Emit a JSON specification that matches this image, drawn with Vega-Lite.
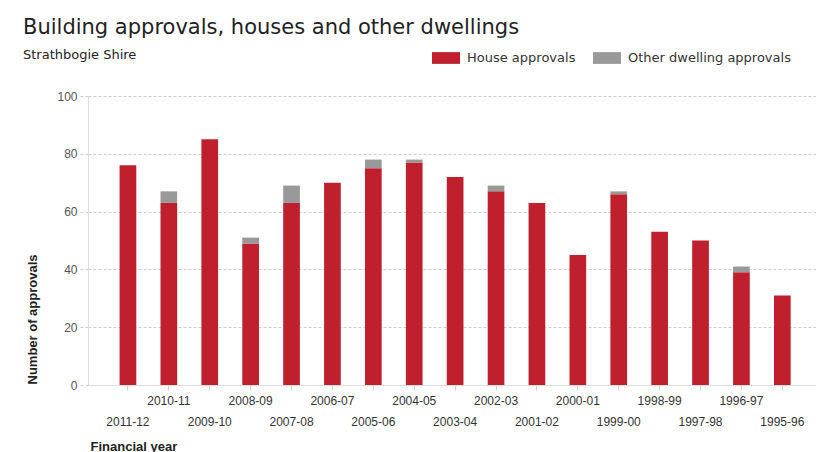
{
  "$schema": "https://vega.github.io/schema/vega-lite/v6.json",
  "width": 728,
  "height": 289,
  "autosize": {"type": "none"},
  "padding": {"left": 88, "top": 96, "right": 0, "bottom": 67},
  "background": "white",
  "title": {
    "text": "Building approvals, houses and other dwellings",
    "subtitle": "Strathbogie Shire",
    "anchor": "start",
    "frame": "group",
    "dx": -65,
    "offset": -18,
    "font": "DejaVu Sans",
    "fontSize": 21,
    "fontWeight": "normal",
    "color": "#222222",
    "subtitleFont": "DejaVu Sans",
    "subtitleFontSize": 13,
    "subtitleColor": "#222222",
    "subtitlePadding": 11
  },
  "data": {
    "values": [
      {"year": "2011-12", "type": "House approvals", "value": 76},
      {"year": "2010-11", "type": "House approvals", "value": 63},
      {"year": "2010-11", "type": "Other dwelling approvals", "value": 4},
      {"year": "2009-10", "type": "House approvals", "value": 85},
      {"year": "2008-09", "type": "House approvals", "value": 49},
      {"year": "2008-09", "type": "Other dwelling approvals", "value": 2},
      {"year": "2007-08", "type": "House approvals", "value": 63},
      {"year": "2007-08", "type": "Other dwelling approvals", "value": 6},
      {"year": "2006-07", "type": "House approvals", "value": 70},
      {"year": "2005-06", "type": "House approvals", "value": 75},
      {"year": "2005-06", "type": "Other dwelling approvals", "value": 3},
      {"year": "2004-05", "type": "House approvals", "value": 77},
      {"year": "2004-05", "type": "Other dwelling approvals", "value": 1},
      {"year": "2003-04", "type": "House approvals", "value": 72},
      {"year": "2002-03", "type": "House approvals", "value": 67},
      {"year": "2002-03", "type": "Other dwelling approvals", "value": 2},
      {"year": "2001-02", "type": "House approvals", "value": 63},
      {"year": "2000-01", "type": "House approvals", "value": 45},
      {"year": "1999-00", "type": "House approvals", "value": 66},
      {"year": "1999-00", "type": "Other dwelling approvals", "value": 1},
      {"year": "1998-99", "type": "House approvals", "value": 53},
      {"year": "1997-98", "type": "House approvals", "value": 50},
      {"year": "1996-97", "type": "House approvals", "value": 39},
      {"year": "1996-97", "type": "Other dwelling approvals", "value": 2},
      {"year": "1995-96", "type": "House approvals", "value": 31}
    ]
  },
  "mark": {"type": "bar"},
  "encoding": {
    "x": {
      "field": "year",
      "type": "nominal",
      "sort": null,
      "scale": {"paddingInner": 0.592, "paddingOuter": 0.696, "align": 0.555},
      "axis": {
        "title": "Financial year",
        "titleFont": "Liberation Sans",
        "titleFontSize": 13,
        "titleFontWeight": "bold",
        "titleColor": "#222222",
        "titleX": 2,
        "titleY": 55,
        "titleAlign": "left",
        "titleBaseline": "top",
        "labelAngle": 0,
        "labelFont": "Liberation Sans",
        "labelFontSize": 12,
        "labelColor": "#333333",
        "labelBaseline": "top",
        "labelPadding": 5,
        "labelLineHeight": 21,
        "labelOverlap": false,
        "labelBound": false,
        "labelExpr": "indexof(['2010-11','2008-09','2006-07','2004-05','2002-03','2000-01','1998-99','1996-97'], datum.value) >= 0 ? datum.value : ['', datum.value]",
        "domainColor": "#dddddd",
        "tickColor": "#cccccc",
        "tickSize": 5,
        "grid": false
      }
    },
    "y": {
      "field": "value",
      "type": "quantitative",
      "stack": "zero",
      "scale": {"domain": [0, 100]},
      "axis": {
        "title": "Number of approvals",
        "titleFont": "Liberation Sans",
        "titleFontSize": 13,
        "titleFontWeight": "bold",
        "titleColor": "#222222",
        "titleAngle": 270,
        "titleX": -56,
        "titleY": 288,
        "titleAlign": "left",
        "titleBaseline": "middle",
        "values": [0, 20, 40, 60, 80, 100],
        "labelFont": "Liberation Sans",
        "labelFontSize": 12,
        "labelColor": "#555555",
        "labelPadding": 1,
        "tickSize": 10,
        "tickColor": "#cccccc",
        "tickDash": [3, 2],
        "domainColor": "#dddddd",
        "grid": true,
        "gridColor": "#cccccc",
        "gridDash": [3, 2]
      }
    },
    "color": {
      "field": "type",
      "type": "nominal",
      "scale": {
        "domain": ["House approvals", "Other dwelling approvals"],
        "range": ["#C01F2E", "#999999"]
      },
      "legend": {
        "title": null,
        "orient": "none",
        "direction": "horizontal",
        "legendX": 344,
        "legendY": -52,
        "padding": 0,
        "symbolType": "M-1,-0.42H1V0.42H-1Z",
        "symbolSize": 784,
        "symbolStrokeWidth": 0,
        "labelFont": "DejaVu Sans",
        "labelFontSize": 13,
        "labelColor": "#333333",
        "labelOffset": 7,
        "labelLimit": 300,
        "columnPadding": 17
      }
    },
    "order": {"field": "type", "sort": "ascending"}
  },
  "config": {
    "view": {"stroke": null}
  }
}
